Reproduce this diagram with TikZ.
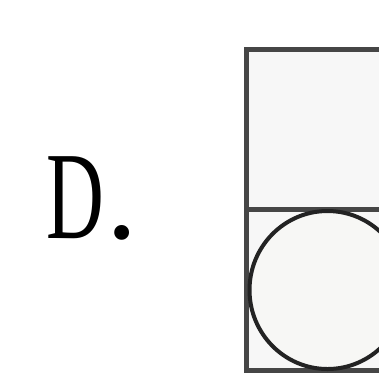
\documentclass[tikz,border=0pt]{standalone}
\usepackage{graphicx}
\usepackage{fontspec}
\setmainfont{Liberation Serif}
\usetikzlibrary{shapes.geometric}
\tikzset{frame/.style={draw={rgb,255:red,70;green,70;blue,70},line width=5pt,fill={rgb,255:red,247;green,247;blue,247}},
  ring/.style={draw={rgb,255:red,35;green,35;blue,35},line width=4pt,fill={rgb,255:red,247;green,247;blue,245}}}
\begin{document}
\begin{tikzpicture}[x=1pt,y=-1pt]
\useasboundingbox[fill=white] (0,0) rectangle (379,376);
\begin{scope}
\clip (0,0) rectangle (379,376);
\node[frame,rectangle,minimum width=162pt,minimum height=161pt,inner sep=0pt,anchor=north west] (top) at (244,47) {};
\node[frame,rectangle,minimum width=162pt,minimum height=161pt,inner sep=0pt,anchor=north west] (bot) at (244,207) {};
\node[ring,ellipse,minimum width=156pt,minimum height=158pt,inner sep=0pt] (c) at (bot.center) {};
\end{scope}
\node[anchor=base west,inner sep=0pt] (lbl) at (46,238) {\scalebox{0.64}[1]{\fontsize{125}{125}\selectfont D}};
\node[anchor=base west,inner sep=0pt] (dot) at (106,238) {\fontsize{125}{125}\selectfont .};
\end{tikzpicture}
\end{document}
